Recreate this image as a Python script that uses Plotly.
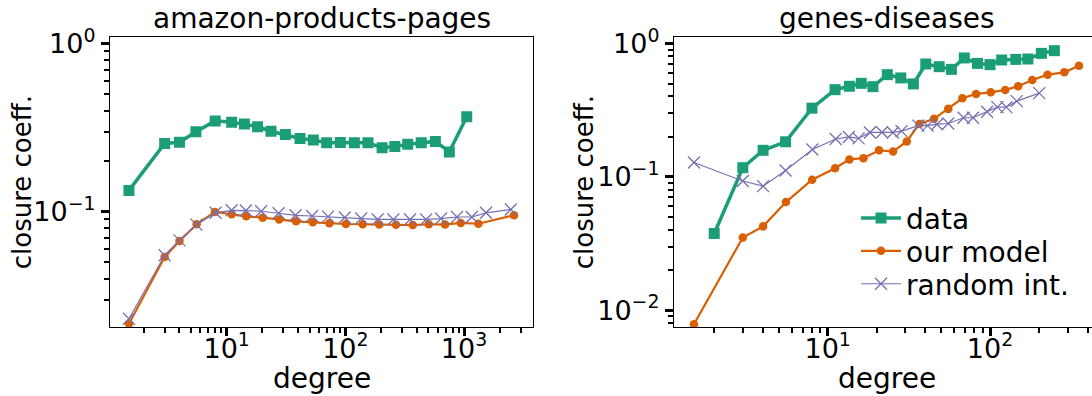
import plotly.graph_objects as go

# ---------------- data ----------------
# amazon-products-pages
amz_data_x = [1.5, 3.0, 4.0, 5.5, 8.0, 11.0, 14.1, 18.2, 23.6, 31.2, 41.5, 53.7, 69.6, 90.6,
              119, 155, 204, 261, 335, 436, 573, 752, 1054]
amz_data_y = [0.134, 0.255, 0.259, 0.299, 0.347, 0.341, 0.332, 0.320, 0.301, 0.288, 0.273,
              0.267, 0.257, 0.258, 0.257, 0.257, 0.240, 0.244, 0.252, 0.257, 0.262, 0.227, 0.367]
amz_model_x = [1.5, 3.0, 4.0, 5.58, 7.96, 11.0, 14.6, 20.1, 27.7, 38.4, 53.1, 73.3, 101, 140,
               193, 267, 370, 504, 691, 938, 1320, 2637]
amz_model_y = [0.0216, 0.0538, 0.0670, 0.0843, 0.0997, 0.0967, 0.0940, 0.0923, 0.0899, 0.0878,
               0.0866, 0.0855, 0.0846, 0.0843, 0.0839, 0.0837, 0.0834, 0.0843, 0.0839, 0.0858,
               0.0849, 0.0953]
amz_rand_x = [1.5, 3.0, 4.0, 5.56, 8.05, 11.0, 14.5, 19.5, 27.4, 38.0, 52.4, 71.5, 98.8, 136,
              187, 254, 351, 479, 640, 873, 1162, 1531, 2478]
amz_rand_y = [0.0231, 0.0551, 0.0676, 0.0839, 0.0986, 0.102, 0.1017, 0.1007, 0.098, 0.0953,
              0.0944, 0.0936, 0.0925, 0.0911, 0.0900, 0.0900, 0.0900, 0.0900, 0.0911, 0.0931,
              0.0931, 0.0986, 0.1032]

# genes-diseases
gen_data_x = [2.0, 3.0, 4.0, 5.5, 8.0, 11.1, 13.6, 16.1, 19.0, 23.3, 28.2, 33.7, 40.2, 48.6,
              57.8, 69.4, 83.7, 100, 118, 144, 171, 207, 249]
gen_data_y = [0.0376, 0.117, 0.158, 0.183, 0.327, 0.450, 0.477, 0.502, 0.474, 0.583, 0.551,
              0.497, 0.701, 0.669, 0.639, 0.778, 0.708, 0.693, 0.751, 0.759, 0.764, 0.842, 0.882]
gen_model_x = [1.5, 3.0, 4.0, 5.53, 8.02, 11.1, 13.6, 16.6, 20.7, 25.3, 30.7, 36.7, 45.2, 55.3,
               67.5, 82.0, 101, 124, 149, 182, 226, 287, 353]
gen_model_y = [0.00784, 0.0351, 0.0425, 0.0646, 0.0950, 0.116, 0.135, 0.138, 0.158, 0.155,
               0.184, 0.249, 0.272, 0.323, 0.388, 0.418, 0.430, 0.448, 0.477, 0.532, 0.583,
               0.607, 0.681]
gen_rand_x = [1.5, 3.0, 4.0, 5.5, 8.05, 11.2, 13.5, 15.5, 18.2, 21.6, 25.2, 28.5, 36.2, 41.2,
              47.1, 55.3, 68.7, 78.5, 95.9, 111, 126, 146, 201]
gen_rand_y = [0.128, 0.0930, 0.0851, 0.1115, 0.160, 0.192, 0.199, 0.194, 0.215, 0.216, 0.215,
              0.220, 0.242, 0.242, 0.248, 0.251, 0.277, 0.277, 0.307, 0.333, 0.333, 0.369, 0.424]

titles = ["amazon-products-pages", "genes-diseases"]
series_names = ["data", "our model", "random int."]
colors = ["#1b9e77", "#d95f02", "#7570b3"]

# ---------------- figure ----------------
FONT = "DejaVu Sans"
W, H = 1092, 396
ML, MR, MT, MB = 110, 0, 36.5, 69
PW = W - ML - MR
PH = H - MT - MB


def px_to_paper_x(px):
    return (px - ML) / PW


def px_to_paper_y(py):
    return 1 - (py - MT) / PH


fig = go.Figure()

panels = [
    (amz_data_x, amz_data_y, amz_model_x, amz_model_y, amz_rand_x, amz_rand_y),
    (gen_data_x, gen_data_y, gen_model_x, gen_model_y, gen_rand_x, gen_rand_y),
]
legend_ids = ["legend", "legend2", "legend3"]

for i, (dx, dy, mx, my, rx, ry) in enumerate(panels):
    xa = "x" if i == 0 else "x2"
    ya = "y" if i == 0 else "y2"
    show = (i == 1)
    fig.add_trace(go.Scatter(
        x=dx, y=dy, name=series_names[0], mode="lines+markers", xaxis=xa, yaxis=ya,
        line=dict(color=colors[0], width=3.5),
        marker=dict(symbol="square", size=11, color=colors[0]),
        showlegend=show, legend=legend_ids[0]))
    fig.add_trace(go.Scatter(
        x=mx, y=my, name=series_names[1], mode="lines+markers", xaxis=xa, yaxis=ya,
        line=dict(color=colors[1], width=2.2),
        marker=dict(symbol="circle", size=8.5, color=colors[1]),
        showlegend=show, legend=legend_ids[1]))
    fig.add_trace(go.Scatter(
        x=rx, y=ry, name=series_names[2], mode="lines+markers", xaxis=xa, yaxis=ya,
        line=dict(color=colors[2], width=1.2),
        marker=dict(symbol="x-thin", size=12, color=colors[2],
                    line=dict(color=colors[2], width=1.3)),
        showlegend=show, legend=legend_ids[2]))


def minor_vals(lo, hi):
    vals = []
    for e in range(lo, hi + 1):
        for m in range(2, 10):
            vals.append(m * 10 ** e)
    return vals


def sup_label(e):
    s = str(e).replace("-", "\u2212")
    return "10<sup>" + s + "</sup>"


tickfont = dict(family=FONT, size=27, color="black")

common_axis = dict(
    type="log", showgrid=False, zeroline=False, showline=True, linecolor="black",
    linewidth=1.2, ticks="outside", ticklen=8, tickwidth=3, tickcolor="black",
    tickfont=tickfont,
)
minor_style = dict(ticks="outside", ticklen=4.5, tickwidth=1.5, tickcolor="black",
                   showgrid=False)

fig.update_layout(
    xaxis=dict(common_axis, domain=[0, 0.4311], range=[0.0165, 3.584], anchor="y",
               mirror=True, ticklabelstandoff=-11,
               tickvals=[10, 100, 1000], ticktext=[sup_label(e) for e in (1, 2, 3)],
               minor=dict(minor_style, tickvals=minor_vals(0, 3))),
    yaxis=dict(common_axis, domain=[0, 1], range=[-1.685, 0.039], anchor="x",
               mirror=True,
               tickvals=[0.1, 1], ticktext=[sup_label(e) for e in (-1, 0)],
               minor=dict(minor_style, tickvals=minor_vals(-2, -1))),
    xaxis2=dict(common_axis, domain=[0.5743, 1], range=[0.053, 2.628], anchor="y2",
                mirror=True, ticklabelstandoff=-11,
                tickvals=[10, 100], ticktext=[sup_label(e) for e in (1, 2)],
                minor=dict(minor_style, tickvals=minor_vals(0, 2))),
    yaxis2=dict(common_axis, domain=[0, 1], range=[-2.126, 0.048], anchor="x2",
                mirror=False,
                tickvals=[0.01, 0.1, 1], ticktext=[sup_label(e) for e in (-2, -1, 0)],
                minor=dict(minor_style, tickvals=minor_vals(-3, -1))),
)

annotations = []
for cx, t in zip([321.7, 886.5], titles):
    annotations.append(dict(text=t, x=px_to_paper_x(cx), y=px_to_paper_y(18),
                            xref="paper", yref="paper", showarrow=False,
                            xanchor="center", yanchor="middle",
                            font=dict(family=FONT, size=28, color="black")))
for cx in [321.7, 886.5]:
    annotations.append(dict(text="degree", x=px_to_paper_x(cx), y=px_to_paper_y(379),
                            xref="paper", yref="paper", showarrow=False,
                            xanchor="center", yanchor="middle",
                            font=dict(family=FONT, size=28, color="black")))
for cx in [22, 584]:
    annotations.append(dict(text="closure coeff.", x=px_to_paper_x(cx), y=px_to_paper_y(182),
                            xref="paper", yref="paper", showarrow=False, textangle=-90,
                            xanchor="center", yanchor="middle",
                            font=dict(family=FONT, size=26, color="black")))

legend_common = dict(xanchor="left", yanchor="middle", bgcolor="rgba(0,0,0,0)",
                     borderwidth=0, font=dict(family=FONT, size=28, color="black"),
                     itemwidth=40)
leg_rows = [218, 251, 284]

fig.update_layout(
    width=W, height=H,
    margin=dict(l=ML, r=MR, t=MT, b=MB, pad=0, autoexpand=False),
    paper_bgcolor="white", plot_bgcolor="white",
    annotations=annotations,
    showlegend=True,
    legend=dict(legend_common, x=px_to_paper_x(856), y=px_to_paper_y(leg_rows[0])),
    legend2=dict(legend_common, x=px_to_paper_x(856), y=px_to_paper_y(leg_rows[1])),
    legend3=dict(legend_common, x=px_to_paper_x(856), y=px_to_paper_y(leg_rows[2])),
    font=dict(family=FONT, color="black"),
)

fig.write_html("out.html",
               config={"displayModeBar": False},
               post_script="document.body.style.margin='0px';document.body.style.padding='0px';")
